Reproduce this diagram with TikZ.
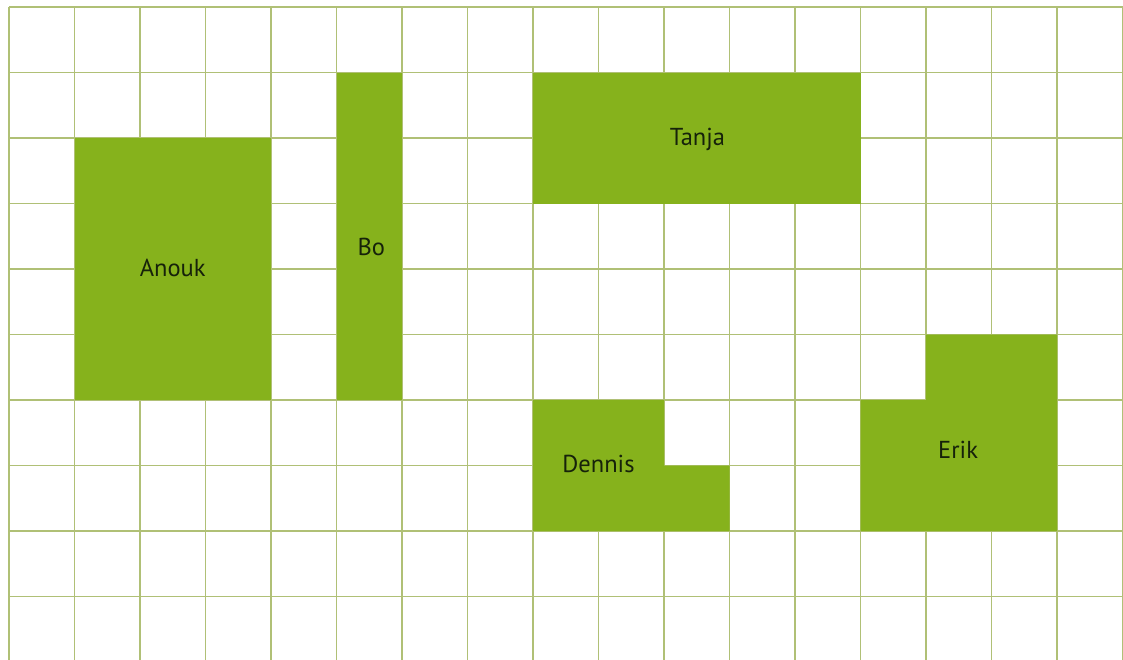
\documentclass[tikz,border=0pt]{standalone}
\usepackage{fontspec}
\setmainfont{PT Sans}
\definecolor{gridc}{RGB}{176,192,118}
\definecolor{leaf}{RGB}{134,178,28}
\definecolor{ink}{RGB}{22,34,10}
\begin{document}
\begin{tikzpicture}[x=65.5pt,y=-65.5pt,
  gridline/.style={draw=gridc,line width=1.7pt},
  block/.style={fill=leaf},
  kidname/.style={anchor=base,inner sep=0pt,text=ink,font=\fontsize{24.5}{28}\selectfont}]
\useasboundingbox (-9pt,7pt) rectangle ++(1123pt,-659pt);
\clip (-9pt,7pt) rectangle ++(1123pt,-659pt);
% grid
\foreach \i in {0,...,17} \draw[gridline] (\i,0) -- (\i,10.2);
\foreach \j in {0,...,10} \draw[gridline] (0,\j) -- (17.2,\j);
% blocks
\fill[block] (1,2) rectangle (4,6);
\fill[block] (5,1) rectangle (6,6);
\fill[block] (8,1) rectangle (13,3);
\fill[block] (8,6) -- (10,6) -- (10,7) -- (11,7) -- (11,8) -- (8,8) -- cycle;
\fill[block] (13,6) -- (14,6) -- (14,5) -- (16,5) -- (16,8) -- (13,8) -- cycle;
% labels
\node[kidname] (anouk) at (2.5,4.12) {Anouk};
\node[kidname] (bo) at (5.53,3.79) {Bo};
\node[kidname] (tanja) at (10.51,2.12) {Tanja};
\node[kidname] (dennis) at (9.0,7.11) {Dennis};
\node[kidname] (erik) at (14.49,6.89) {Erik};
\end{tikzpicture}
\end{document}
